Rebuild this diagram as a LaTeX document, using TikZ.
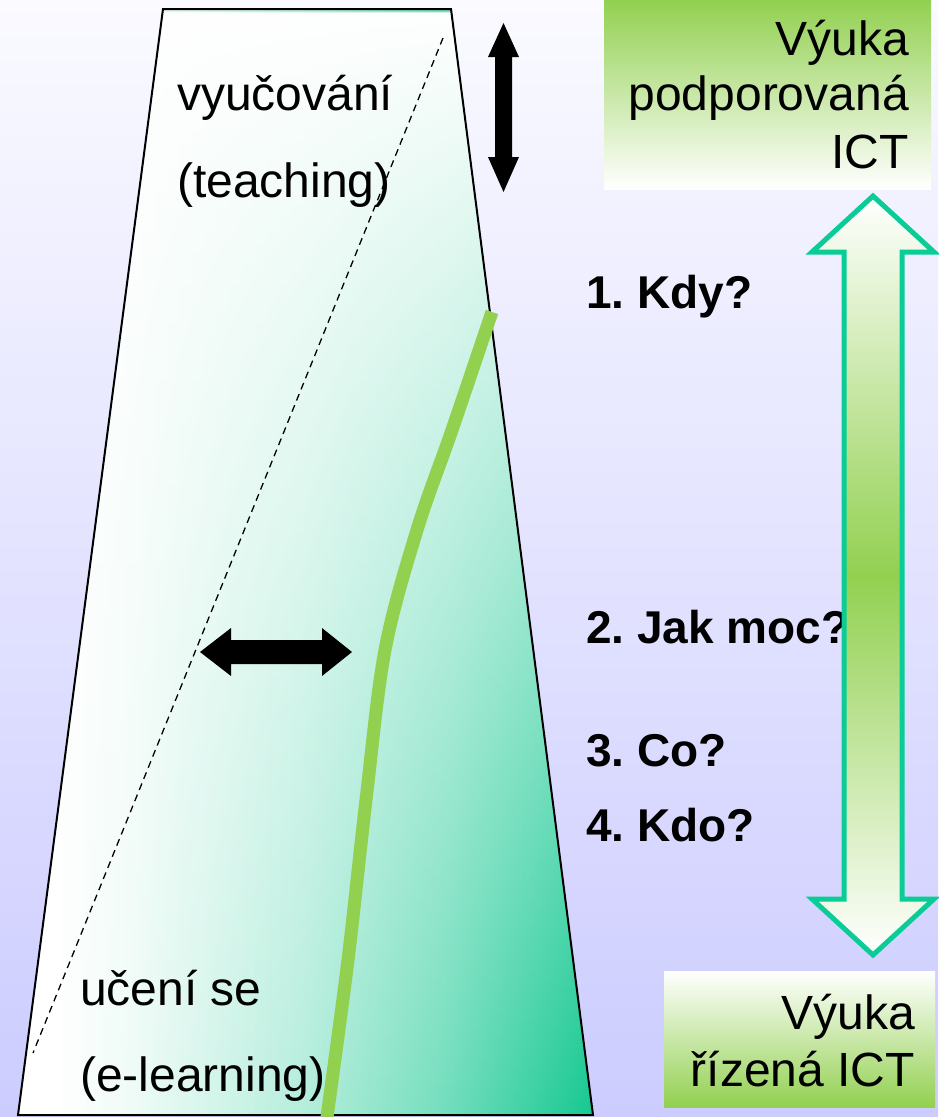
\documentclass[tikz,border=0pt]{standalone}
\usepackage{fontspec}
\setmainfont{Liberation Sans}
\usetikzlibrary{fadings}
\frenchspacing
\definecolor{limegr}{RGB}{146,208,80}
\definecolor{arrline}{RGB}{10,204,150}
\definecolor{trapgreen}{RGB}{22,200,145}
\colorlet{trapa}{trapgreen!7!white}
\colorlet{trapb}{trapgreen!32!white}
\colorlet{trapc}{trapgreen!60!white}
\definecolor{bgtop}{RGB}{250,250,255}
\definecolor{bgbot}{RGB}{204,204,255}
\pgfdeclarehorizontalshading{trapshade}{100bp}{color(0bp)=(white); color(28bp)=(white); color(35bp)=(trapa); color(50bp)=(trapb); color(62bp)=(trapc); color(75bp)=(trapgreen); color(100bp)=(trapgreen)}
\tikzfading[name=whitetop, top color=transparent!0, middle color=transparent!68, bottom color=transparent!100]
\begin{document}
\begin{tikzpicture}[x=1pt,y=-1pt,
  lbl/.style={inner sep=0pt, font=\fontsize{48}{56}\selectfont},
  qlbl/.style={inner sep=0pt, font=\fontsize{46}{54}\selectfont\bfseries},
  blackarrow/.style={fill=black},
  blockarrow/.style={draw=arrline, line width=5pt, line join=miter, top color=white, bottom color=white, middle color=limegr}]
\useasboundingbox (0,0) rectangle (938,1117);
\shade[top color=bgtop, bottom color=bgbot] (0,0) rectangle (938,1117);
% trapezoid
\coordinate (tl) at (163,9);
\coordinate (tr) at (451,9);
\coordinate (br) at (593,1115);
\coordinate (bl) at (18,1115);
\shade[shading=trapshade] (tl) -- (tr) -- (br) -- (bl) -- cycle;
\fill[white, path fading=whitetop] (tl) -- (tr) -- (br) -- (bl) -- cycle;
\draw[line width=2pt] (tl) -- (tr) -- (br) -- (bl) -- cycle;
% dashed diagonal
\coordinate (dtop) at (443,38);
\coordinate (dbot) at (33,1053);
\draw[line width=1.3pt, dash pattern=on 7pt off 5pt] (dtop) -- (dbot);
% green curve
\draw[line width=13pt, limegr] plot[smooth, tension=0.55] coordinates {(492,312) (452,430) (417,530) (385,650) (366,800) (348,960) (327,1117)};
% black vertical double arrow
\fill[blackarrow] (503.5,23) -- (519,57) -- (512,57) -- (512,157) -- (519,157) -- (503.5,192) -- (488,157) -- (495,157) -- (495,57) -- (488,57) -- cycle;
% black horizontal double arrow
\fill[blackarrow] (200,652) -- (231,628) -- (231,640) -- (322,640) -- (322,628) -- (352,652) -- (322,676) -- (322,664) -- (231,664) -- (231,676) -- cycle;
% left labels
\node[lbl, anchor=base west] (t1) at (177,110) {vyučování};
\node[lbl, anchor=base west] (t2) at (177,197) {(teaching)};
\node[lbl, anchor=base west] (t3) at (80,1005) {učení se};
\node[lbl, anchor=base west] (t4) at (80,1091) {(e-learning)};
% questions
\node[qlbl, anchor=base west] (q1) at (586,308) {1. Kdy?};
\node[qlbl, anchor=base west] (q2) at (586,643) {2. Jak moc?};
\node[qlbl, anchor=base west] (q3) at (586,766) {3. Co?};
\node[qlbl, anchor=base west] (q4) at (586,841) {4. Kdo?};
% block double arrow
\shade[blockarrow] (873,196) -- (934,252) -- (902,252) -- (902,899) -- (934,899) -- (873,955) -- (812,899) -- (844,899) -- (844,252) -- (812,252) -- cycle;
% top box
\shade[top color=limegr, bottom color=white] (604,0) rectangle (931,189);
\node[lbl, anchor=base east] (b1) at (909,55) {Výuka};
\node[lbl, anchor=base east] (b2) at (909,110) {podporovaná};
\node[lbl, anchor=base east] (b3) at (909,168) {ICT};
% bottom box
\shade[top color=white, bottom color=limegr] (664,971) rectangle (935,1107);
\node[lbl, anchor=base east] (c1) at (915,1029) {Výuka};
\node[lbl, anchor=base east] (c2) at (915,1086) {řízená ICT};
\end{tikzpicture}
\end{document}
